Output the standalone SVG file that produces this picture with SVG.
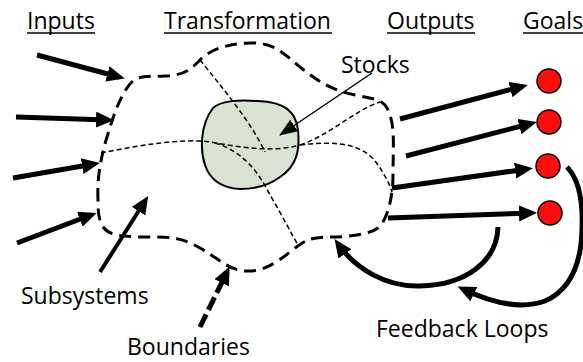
<svg xmlns="http://www.w3.org/2000/svg" width="583" height="362" viewBox="0 0 583 362">
  <style>
    text { font-family: "Open Sans", "Liberation Sans", sans-serif; font-size: 23px; fill: #000; }
    .ul { stroke: #000; stroke-width: 1.5; }
    .thick { fill: none; stroke: #000; stroke-width: 5; }
    .mid { fill: none; stroke: #000; stroke-width: 4; }
    .boundary { fill: none; stroke: #000; stroke-width: 3; stroke-dasharray: 12 7; }
    .sub { fill: none; stroke: #000; stroke-width: 1.5; stroke-dasharray: 5 3; }
    .goal { fill: #FF0D0D; stroke: #000; stroke-width: 1.5; }
  </style>
  <defs>
    <marker id="ah" markerUnits="userSpaceOnUse" markerWidth="20" markerHeight="18" refX="12" refY="8" orient="auto">
      <path d="M0,0 L18,8 L0,16 Z" fill="#000"/>
    </marker>
    <marker id="ahThin" markerUnits="userSpaceOnUse" markerWidth="20" markerHeight="16" refX="17" refY="7" orient="auto">
      <path d="M0,0 L18,7 L0,14 Z" fill="#000"/>
    </marker>
  </defs>

  <!-- column headers -->
  <g id="headers">
    <text x="27" y="29">Inputs</text>
    <line class="ul" x1="27" y1="33" x2="95" y2="33"/>
    <text x="164" y="29">Transformation</text>
    <line class="ul" x1="164" y1="33" x2="332" y2="33"/>
    <text x="387" y="29">Outputs</text>
    <line class="ul" x1="387" y1="33" x2="475" y2="33"/>
    <text x="523" y="29">Goals</text>
    <line class="ul" x1="523" y1="33" x2="583" y2="33"/>
  </g>

  <!-- system boundary -->
  <g id="boundary">
    <path class="boundary" d="M98,200 C97,180 100,160 107,137 S118,102 127,88 S145,77 165,76 S190,70 200,60 S225,44 250,43 S285,55 300,67 S330,90 355,95 S385,100 390,115 S393,150 393,175 S386,222 378,228 S350,237 330,237 S305,240 290,252 S262,272 245,271 S218,258 200,248 S175,237 150,237 S110,236 104,228 S98,210 98,200 Z"/>
  </g>

  <!-- stock -->
  <g id="stock">
    <path d="M213,108 C222,100 240,100 258,101 C285,102 296,112 298,130 C300,150 297,166 280,177 C268,186 255,189 240,189 C222,188 210,180 205,165 C200,150 200,125 213,108 Z" fill="#D9E3D2" stroke="#000" stroke-width="2"/>
  </g>

  <!-- subsystem divisions -->
  <g id="subsystems">
    <path class="sub" d="M101,153 C140,145 185,138 210,142 C240,147 270,153 300,145"/>
    <path class="sub" d="M300,145 C330,135 355,110 380,102"/>
    <path class="sub" d="M300,145 C340,140 365,145 378,165 C385,175 390,185 392,192"/>
    <path class="sub" d="M200,60 C220,85 250,120 265,152"/>
    <path class="sub" d="M215,143 C240,150 258,170 270,195 C282,215 292,235 298,245"/>
  </g>

  <!-- goals -->
  <g id="goal-1"><circle class="goal" cx="549" cy="81" r="12"/></g>
  <g id="goal-2"><circle class="goal" cx="549" cy="122" r="12"/></g>
  <g id="goal-3"><circle class="goal" cx="548" cy="166" r="12"/></g>
  <g id="goal-4"><circle class="goal" cx="550" cy="213" r="12"/></g>

  <!-- connectors -->
  <g id="connectors">
    <!-- inputs -->
    <line class="thick" x1="37" y1="55" x2="119" y2="77" marker-end="url(#ah)"/>
    <line class="thick" x1="16" y1="117" x2="108" y2="120" marker-end="url(#ah)"/>
    <line class="thick" x1="13" y1="178" x2="94" y2="164" marker-end="url(#ah)"/>
    <line class="thick" x1="17" y1="243" x2="91" y2="215" marker-end="url(#ah)"/>
    <!-- outputs -->
    <line class="thick" x1="400" y1="119" x2="522" y2="86.5" marker-end="url(#ah)"/>
    <line class="thick" x1="406" y1="156" x2="531" y2="123.5" marker-end="url(#ah)"/>
    <line class="thick" x1="392" y1="188" x2="527" y2="169" marker-end="url(#ah)"/>
    <line class="thick" x1="388" y1="218" x2="531" y2="213" marker-end="url(#ah)"/>
    <!-- feedback loops -->
    <path class="thick" d="M498,227 C497,262 465,285 420,286 C385,287 355,268 338,244" marker-end="url(#ah)"/>
    <path class="thick" d="M567,167 C580,180 583,205 582,230 C581,265 570,290 545,301 C520,310 490,302 463,289" marker-end="url(#ah)"/>
    <!-- label pointers -->
    <line x1="372" y1="73" x2="280" y2="135" stroke="#000" stroke-width="1.5" marker-end="url(#ahThin)"/>
    <line class="mid" x1="100" y1="272" x2="145" y2="201" marker-end="url(#ah)"/>
    <line class="thick" x1="200" y1="327" x2="227" y2="272" stroke-dasharray="14 5" marker-end="url(#ah)"/>
  </g>

  <!-- labels -->
  <g id="labels">
    <text x="341" y="73">Stocks</text>
    <text x="21" y="304">Subsystems</text>
    <text x="127" y="355">Boundaries</text>
    <text x="376" y="337">Feedback Loops</text>
  </g>
</svg>
